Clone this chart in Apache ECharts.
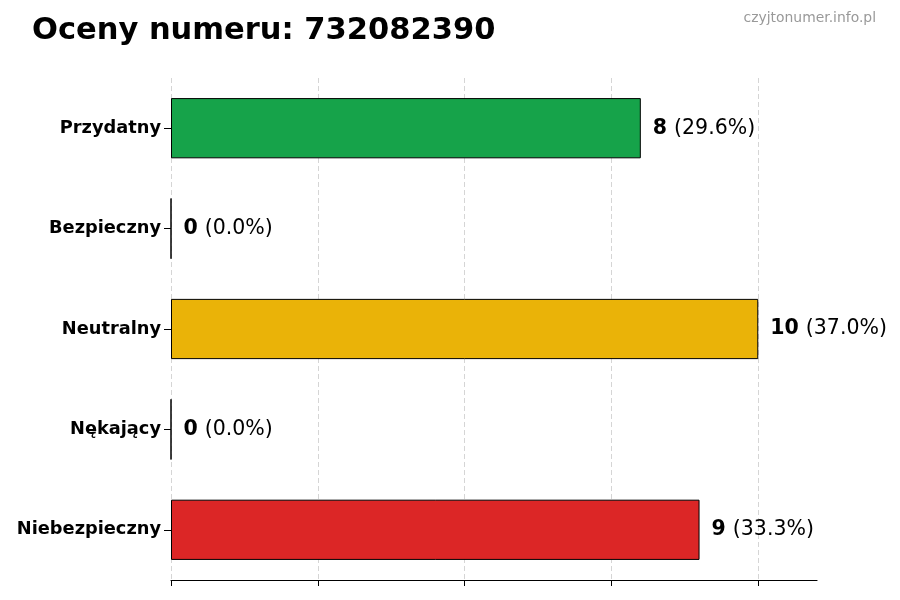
<!DOCTYPE html>
<html><head><meta charset="utf-8">
<script src="https://cdn.jsdelivr.net/npm/echarts@6/dist/echarts.min.js"></script>
<style>html,body{margin:0;padding:0;background:#fff}#c{width:900px;height:600px}</style>
</head><body><div id="c"></div>
<script>
const categories = ['Przydatny', 'Bezpieczny', 'Neutralny', 'Nękający', 'Niebezpieczny'];
const values = [8, 0, 10, 0, 9];
const percents = ['29.6%', '0.0%', '37.0%', '0.0%', '33.3%'];
const colors = ['#16a34a', '#16a34a', '#eab308', '#dc2626', '#dc2626'];
const xTicks = [0, 2.5, 5, 7.5, 10];

const chart = echarts.init(document.getElementById('c'), null, {renderer: 'canvas'});
const F = 'DejaVu Sans';
chart.setOption({
  animation: false,
  backgroundColor: '#fff',
  title: [
    {text: 'Oceny numeru: 732082390', left: 27, top: 11,
     textStyle: {fontFamily: F, fontSize: 30.5, fontWeight: 'bold', color: '#000'}},
    {text: 'czyjtonumer.info.pl', right: 19, top: 6,
     textStyle: {fontFamily: F, fontSize: 13.9, fontWeight: 'normal', color: '#999'}}
  ],
  grid: {left: 171, right: 83, top: 78, bottom: 20, containLabel: false},
  xAxis: {
    type: 'value', min: 0, max: 11, interval: 2.5,
    axisLine: {show: true, lineStyle: {color: '#000', width: 1.2}},
    axisTick: {show: true, length: 6, lineStyle: {color: '#000'}, customValues: xTicks},
    axisLabel: {show: false},
    splitLine: {show: true, lineStyle: {color: '#d0d0d0', type: [5, 3], width: 0.9}}
  },
  yAxis: {
    type: 'category', data: categories, inverse: true,
    axisLine: {show: false},
    axisTick: {show: true, alignWithLabel: true, length: 7, lineStyle: {color: '#000'}},
    axisLabel: {fontFamily: F, fontSize: 17.8, fontWeight: 'bold', color: '#000', margin: 10}
  },
  series: [{
    type: 'bar',
    barWidth: '60%',
    data: values.map((v, i) => ({value: v, itemStyle: {color: colors[i]}})),
    itemStyle: {borderColor: '#000', borderWidth: 1},
    label: {
      show: true, position: 'right', distance: 12,
      formatter: p => '{b|' + p.value + '}{n|(' + percents[p.dataIndex] + ')}',
      rich: {
        b: {fontFamily: F, fontSize: 20.5, fontWeight: 'bold', color: '#000'},
        n: {fontFamily: F, fontSize: 20.5, fontWeight: 'normal', color: '#000', padding: [0, 0, 0, 7]}
      }
    }
  }]
});
</script></body></html>
